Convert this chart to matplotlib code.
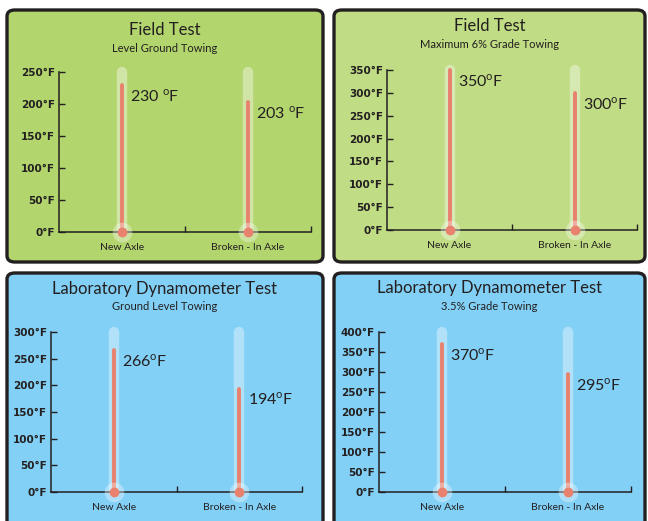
import matplotlib.pyplot as plt
from matplotlib.patches import FancyBboxPatch

W, H = 648, 521

titles = ['Field Test', 'Field Test', 'Laboratory Dynamometer Test', 'Laboratory Dynamometer Test']
subtitles = ['Level Ground Towing', 'Maximum 6% Grade Towing', 'Ground Level Towing', '3.5% Grade Towing']
categories = ['New Axle', 'Broken - In Axle']
temps = [[230, 203], [350, 300], [266, 194], [370, 295]]
ymax = [250, 350, 300, 400]

plt.rcParams['font.family'] = ['Lato', 'DejaVu Sans']
plt.rcParams['mathtext.fontset'] = 'custom'
plt.rcParams['mathtext.rm'] = 'Lato'

fig = plt.figure(figsize=(W / 100, H / 100), dpi=100)
fig.patch.set_facecolor('white')

# panel boxes in pixels: x0, y0 (top), x1, y1
boxes = [(7, 10, 323, 262), (334, 10, 645, 262), (7, 273, 323, 535), (334, 273, 645, 535)]
fills = ['#b2d56e', '#c0dc84', '#82d0f5', '#82d0f5']
# axes rectangles: left, top(ymax), right, bottom(0)
axrects = [(59, 72, 311, 232), (387, 70, 637, 230), (51, 332, 302, 492), (379, 332, 631, 492)]
title_y = [30, 26, 289, 288]
sub_y = [48, 44, 307, 306]

ink = '#231f20'
red = '#e8826f'

for i in range(4):
    x0, y0, x1, y1 = boxes[i]
    fig.patches.append(FancyBboxPatch((x0 / W, 1 - y1 / H), (x1 - x0) / W, (y1 - y0) / H,
                                      boxstyle='round,pad=0,rounding_size=0.012',
                                      transform=fig.transFigure, facecolor=fills[i],
                                      edgecolor=ink, linewidth=2.4, zorder=-1))
    cx = (x0 + x1) / 2
    fig.text(cx / W, 1 - title_y[i] / H, titles[i], ha='center', va='center',
             fontsize=12, color=ink)
    fig.text(cx / W, 1 - sub_y[i] / H, subtitles[i], ha='center', va='center',
             fontsize=8, color=ink)

    l, t, r, b = axrects[i]
    ax = fig.add_axes([l / W, 1 - b / H, (r - l) / W, (b - t) / H])
    ax.set_facecolor('none')
    ax.set_xlim(0, 1)
    ax.set_ylim(0, ymax[i])
    for s in ['top', 'right']:
        ax.spines[s].set_visible(False)
    for s in ['left', 'bottom']:
        ax.spines[s].set_color(ink)
        ax.spines[s].set_linewidth(1.1)
    ax.set_yticks(range(0, ymax[i] + 1, 50))
    ax.set_yticklabels(['%d°F' % v for v in range(0, ymax[i] + 1, 50)],
                       family='Liberation Sans Narrow', fontweight='bold', fontsize=7.5, color=ink)
    ax.tick_params(axis='y', direction='in', length=4, width=1, color=ink, pad=3)
    ax.set_xticks([0.5, 1.0])
    ax.set_xticklabels([])
    ax.tick_params(axis='x', direction='in', length=4, width=1, color=ink)

    xs = [0.25, 0.75]
    for j in range(2):
        x = xs[j]
        v = temps[i][j]
        ax.plot([x, x], [0, ymax[i]], color='white', alpha=0.38, linewidth=7.5,
                solid_capstyle='round', zorder=2, clip_on=False)
        ax.plot([x, x], [0, v], color=red, linewidth=2.8, solid_capstyle='round',
                zorder=3, clip_on=False)
        ax.scatter([x], [0], s=200, color='white', alpha=0.35, zorder=4,
                   clip_on=False, linewidths=0)
        ax.scatter([x], [0], s=50, color=red, zorder=5, clip_on=False, linewidths=0)
        sep = ' ' if i == 0 else ''
        ax.annotate('%d%s$^{\\mathrm{o}}$F' % (v, sep), (x, v),
                    xytext=(6, -2), textcoords='offset points', ha='left', va='top',
                    fontsize=11.5, color=ink)
        ax.text(x, -ymax[i] * 0.1, categories[j], ha='center', va='center',
                fontsize=7.5, color=ink)

plt.savefig('out.png', dpi=100)
